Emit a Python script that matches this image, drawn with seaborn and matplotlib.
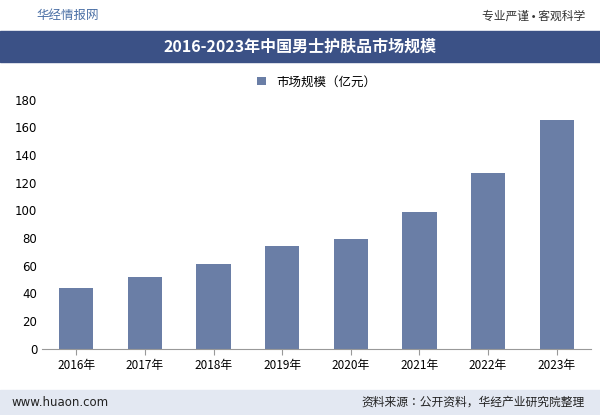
import matplotlib
matplotlib.use("Agg")
import matplotlib.pyplot as plt
from matplotlib import font_manager as fm
import seaborn as sns
import pandas as pd

cjk = sorted({f.name for f in fm.fontManager.ttflist if "Sans CJK" in f.name})
fam = "Noto Sans CJK SC" if "Noto Sans CJK SC" in cjk else (cjk[0] if cjk else "DejaVu Sans")
plt.rcParams["font.family"] = "sans-serif"
plt.rcParams["font.sans-serif"] = ["DejaVu Sans", fam]
plt.rcParams["axes.unicode_minus"] = False

years = ["2016年", "2017年", "2018年", "2019年", "2020年", "2021年", "2022年", "2023年"]
values = [44, 52, 61.5, 74, 79.5, 98.5, 127, 165]
series_name = "市场规模（亿元）"
title = "2016-2023年中国男士护肤品市场规模"

df = pd.DataFrame({"year": years, "value": values})

fig = plt.figure(figsize=(6.0, 4.15), dpi=100)
fig.text(0.06, 0.962, "华经情报网", fontsize=9, color="#4a6fa5", va="center", family=fam)
fig.text(0.975, 0.962, "专业严谨 • 客观科学", fontsize=8.5, color="#333333", va="center", ha="right", family=fam)
fig.patches.append(plt.Rectangle((0.0, 0.85), 1.0, 0.075, transform=fig.transFigure, color="#3b5186", zorder=0))
fig.text(0.5, 0.887, title, fontsize=11.5, color="white", weight="bold", ha="center", va="center", family=fam)
fig.patches.append(plt.Rectangle((0.0, 0.0), 1.0, 0.06, transform=fig.transFigure, color="#e3e8f2", zorder=0))
fig.text(0.02, 0.03, "www.huaon.com", fontsize=8.5, color="#222222", va="center")
fig.text(0.975, 0.03, "资料来源：公开资料，华经产业研究院整理", fontsize=8.5, color="#222222", va="center", ha="right", family=fam)

ax = fig.add_axes([0.07, 0.16, 0.915, 0.6])
sns.barplot(data=df, x="year", y="value", color="#6a7ea6", width=0.5, ax=ax, label=series_name, saturation=1)
ax.set_ylim(0, 180)
ax.set_yticks(range(0, 181, 20))
ax.set_xlabel("")
ax.set_ylabel("")
ax.tick_params(axis="both", labelsize=8.5, length=0)
ax.tick_params(axis="x", length=4, color="#999999")
for lbl in ax.get_xticklabels():
    lbl.set_family(fam)
for s in ["top", "right", "left"]:
    ax.spines[s].set_visible(False)
ax.spines["bottom"].set_color("#999999")
ax.legend(loc="lower center", bbox_to_anchor=(0.5, 1.0), frameon=False, fontsize=9,
          handlelength=0.7, handleheight=0.7, prop={"family": fam, "size": 9})
fig.savefig("out.png", dpi=100)
